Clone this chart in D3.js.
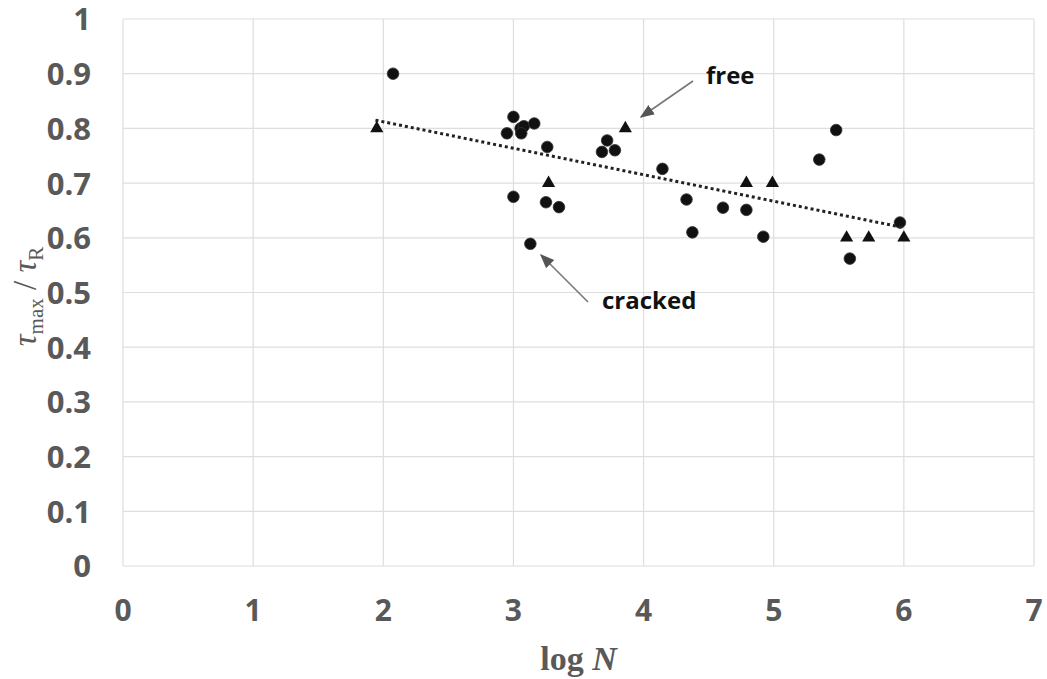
<!DOCTYPE html>
<html>
<head>
<meta charset="utf-8">
<script src="https://cdn.jsdelivr.net/npm/d3@7"></script>
<style>
  body { margin: 0; background: #fff; }
  svg { display: block; }
</style>
</head>
<body>
<div id="chart"></div>
<script>
const width = 1047;
const height = 679;

// cracked specimens (circles)
const circleX = [2.075, 3.0, 2.95, 3.055, 3.08, 3.06, 3.16, 3.26, 3.0, 3.25, 3.35, 3.13,
  3.72, 3.68, 3.78, 4.145, 4.33, 4.375, 4.61, 4.79, 4.92, 5.35, 5.48, 5.97, 5.585];
const circleY = [0.90, 0.821, 0.791, 0.80, 0.804, 0.791, 0.809, 0.766, 0.675, 0.665, 0.656, 0.589,
  0.778, 0.757, 0.76, 0.726, 0.670, 0.61, 0.655, 0.651, 0.602, 0.743, 0.797, 0.628, 0.562];

// free specimens (triangles)
const triX = [1.95, 3.27, 3.86, 4.79, 4.99, 5.56, 5.73, 6.0];
const triY = [0.80, 0.70, 0.80, 0.70, 0.70, 0.60, 0.60, 0.60];

// trendline end points
const trendX = [1.94, 5.99];
const trendY = [0.815, 0.619];

const xTicks = [0, 1, 2, 3, 4, 5, 6, 7];
const yTicks = [0, 0.1, 0.2, 0.3, 0.4, 0.5, 0.6, 0.7, 0.8, 0.9, 1];

const x = d3.scaleLinear().domain([0, 7]).range([123, 1034]);
const y = d3.scaleLinear().domain([0, 1]).range([566, 19]);

const svg = d3
  .select("#chart")
  .append("svg")
  .attr("width", width)
  .attr("height", height);

// grid
svg.append("g")
  .selectAll("line")
  .data(yTicks)
  .join("line")
  .attr("x1", x(0))
  .attr("x2", x(7))
  .attr("y1", d => y(d))
  .attr("y2", d => y(d))
  .attr("stroke", "#dedede")
  .attr("stroke-width", 1.2);

svg.append("g")
  .selectAll("line")
  .data(xTicks)
  .join("line")
  .attr("x1", d => x(d))
  .attr("x2", d => x(d))
  .attr("y1", y(0))
  .attr("y2", y(1))
  .attr("stroke", "#dedede")
  .attr("stroke-width", 1.2);

// tick labels
svg.append("g")
  .selectAll("text")
  .data(yTicks)
  .join("text")
  .attr("x", 91)
  .attr("y", d => y(d))
  .attr("dy", "0.37em")
  .attr("text-anchor", "end")
  .attr("font-family", "'Open Sans', sans-serif")
  .attr("font-weight", "bold")
  .attr("font-size", 31)
  .attr("fill", "#595959")
  .text(d => d3.format("~g")(d));

svg.append("g")
  .selectAll("text")
  .data(xTicks)
  .join("text")
  .attr("x", d => x(d))
  .attr("y", 621)
  .attr("text-anchor", "middle")
  .attr("font-family", "'Open Sans', sans-serif")
  .attr("font-weight", "bold")
  .attr("font-size", 30)
  .attr("fill", "#595959")
  .text(d => d);

// axis titles
svg.append("text")
  .attr("x", (x(0) + x(7)) / 2)
  .attr("y", 670)
  .attr("text-anchor", "middle")
  .attr("font-family", "'Liberation Serif', serif")
  .attr("font-size", 34)
  .attr("font-weight", "bold")
  .attr("fill", "#595959")
  .call(t => {
    t.append("tspan").text("log ");
    t.append("tspan").attr("font-style", "italic").text("N");
  });

const yTitle = svg.append("text")
  .attr("transform", `translate(36,${(y(0) + y(1)) / 2 + 4}) rotate(-90)`)
  .attr("text-anchor", "middle")
  .attr("font-family", "'Liberation Serif', serif")
  .attr("font-size", 33)
  .attr("fill", "#595959");
yTitle.append("tspan").attr("font-style", "italic").text("τ");
yTitle.append("tspan").attr("font-size", 21).attr("dy", 7).text("max");
yTitle.append("tspan").attr("dy", -7).text(" / ");
yTitle.append("tspan").attr("font-style", "italic").text("τ");
yTitle.append("tspan").attr("font-size", 21).attr("dy", 7).text("R");

// markers
const pts = circleX.map((d, i) => ({ x: d, y: circleY[i] }));
const tris = triX.map((d, i) => ({ x: d, y: triY[i] }));

svg.append("g")
  .selectAll("circle")
  .data(pts)
  .join("circle")
  .attr("cx", d => x(d.x))
  .attr("cy", d => y(d.y))
  .attr("r", 5.8)
  .attr("fill", "#111")
  .attr("stroke", "#333")
  .attr("stroke-width", 0.8);

const tri = d3.symbol().type(d3.symbolTriangle).size(75);
svg.append("g")
  .selectAll("path")
  .data(tris)
  .join("path")
  .attr("transform", d => `translate(${x(d.x)},${y(d.y)})`)
  .attr("d", tri)
  .attr("fill", "#111");

// trendline
svg.append("path")
  .datum(trendX.map((d, i) => [d, trendY[i]]))
  .attr("d", d3.line().x(d => x(d[0])).y(d => y(d[1])))
  .attr("fill", "none")
  .attr("stroke", "#222")
  .attr("stroke-width", 3)
  .attr("stroke-dasharray", "3,3");

// annotations
svg.append("defs").append("marker")
  .attr("id", "head")
  .attr("viewBox", "0 0 10 10")
  .attr("refX", 9)
  .attr("refY", 5)
  .attr("markerWidth", 9)
  .attr("markerHeight", 9)
  .attr("orient", "auto")
  .append("path")
  .attr("d", "M0,1 L10,5 L0,9 Z")
  .attr("fill", "#555");

const arrows = [
  { x1: 693, y1: 81, x2: 641, y2: 117 },
  { x1: 588, y1: 302, x2: 541, y2: 255 }
];
svg.append("g")
  .selectAll("line")
  .data(arrows)
  .join("line")
  .attr("x1", d => d.x1)
  .attr("y1", d => d.y1)
  .attr("x2", d => d.x2)
  .attr("y2", d => d.y2)
  .attr("stroke", "#777")
  .attr("stroke-width", 1.6)
  .attr("marker-end", "url(#head)");

svg.append("text")
  .attr("x", 706)
  .attr("y", 84)
  .attr("font-family", "'Open Sans', sans-serif")
  .attr("font-weight", "bold")
  .attr("font-size", 24)
  .attr("fill", "#111")
  .text("free");

svg.append("text")
  .attr("x", 602)
  .attr("y", 309)
  .attr("font-family", "'Open Sans', sans-serif")
  .attr("font-weight", "bold")
  .attr("font-size", 24)
  .attr("fill", "#111")
  .text("cracked");
</script>
</body>
</html>
